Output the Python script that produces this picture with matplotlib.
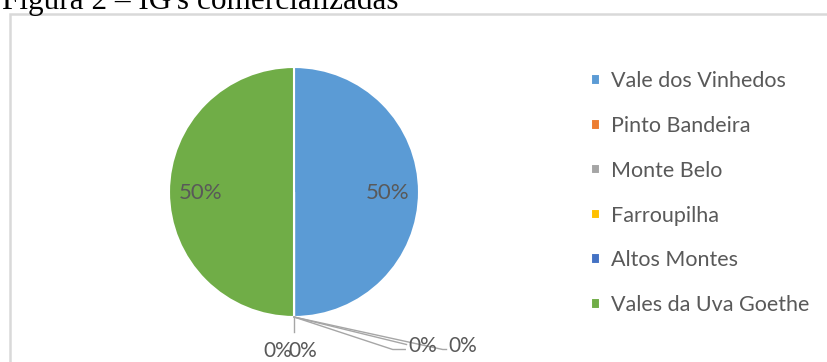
import numpy as np
import matplotlib.pyplot as plt
from matplotlib.patches import Rectangle

regions = ["Vale dos Vinhedos", "Pinto Bandeira", "Monte Belo",
           "Farroupilha", "Altos Montes", "Vales da Uva Goethe"]
counts = [1, 0, 0, 0, 0, 1]
colors = ["#5B9BD5", "#ED7D31", "#A5A5A5", "#FFC000", "#4472C4", "#70AD47"]
caption = "Figura 2 – IG's comercializadas"

txt_color = "#595959"
font = "Lato"

fig = plt.figure(figsize=(8.27, 3.62), dpi=100)
fig.patch.set_facecolor("white")

# chart frame (runs off the right and bottom edges in the reference)
fig.patches.append(Rectangle((10 / 827, -0.05), 1.0, 1 - 13.5 / 362 + 0.05,
                             transform=fig.transFigure, fill=False,
                             edgecolor="#d9d9d9", linewidth=1.8))

# caption, cut off at the top
fig.text(398 / 827, 1 - 8.5 / 362, caption, ha="right", va="baseline",
         family="Liberation Serif", fontsize=22.5, color="black")

ax = fig.add_axes([(294 - 125) / 827, (362 - 317) / 362, 250 / 827, 250 / 362])
wedges, _ = ax.pie(counts, colors=colors, startangle=90, counterclock=False,
                   wedgeprops=dict(edgecolor="white", linewidth=1.5))
ax.set_xlim(-1, 1)
ax.set_ylim(-1, 1)
ax.set_aspect("equal")
ax.axis("off")

total = sum(counts)

# percentage labels for the non-zero wedges
for w, c in zip(wedges, counts):
    if c == 0:
        continue
    ang = np.deg2rad((w.theta1 + w.theta2) / 2)
    ax.text(0.75 * np.cos(ang), 0.75 * np.sin(ang) - 0.01, f"{c / total:.0%}",
            ha="center", va="center", family=font, fontsize=16, color=txt_color)

# zero wedges: labels with leader lines
zero_pos = [(-0.13, -1.27), (0.07, -1.27), (1.03, -1.23), (1.35, -1.23)]
lc = "#a6a6a6"
ax.plot([0, 0], [-1.0, -1.12], color=lc, lw=1, clip_on=False)
ax.plot([0, 0.90], [-1.0, -1.22], color=lc, lw=1, clip_on=False)
ax.plot([0, 0.79, 0.89], [-1.0, -1.26, -1.26], color=lc, lw=1, clip_on=False)
ax.plot([0, 1.19, 1.22], [-1.0, -1.26, -1.26], color=lc, lw=1, clip_on=False)
zi = 0
for c in counts:
    if c == 0:
        x, y = zero_pos[zi]
        ax.text(x, y, f"{c / total:.0%}", ha="center", va="center",
                family=font, fontsize=15, color=txt_color, clip_on=False)
        zi += 1

leg = fig.legend(wedges, regions, loc="upper left",
                 bbox_to_anchor=(572 / 827, 1 - 52 / 362), frameon=False,
                 handlelength=0.38, handleheight=0.38, handletextpad=0.55,
                 labelspacing=1.15, prop=dict(family=font, size=15.5))
for t in leg.get_texts():
    t.set_color(txt_color)

fig.savefig("out.png", dpi=100)
